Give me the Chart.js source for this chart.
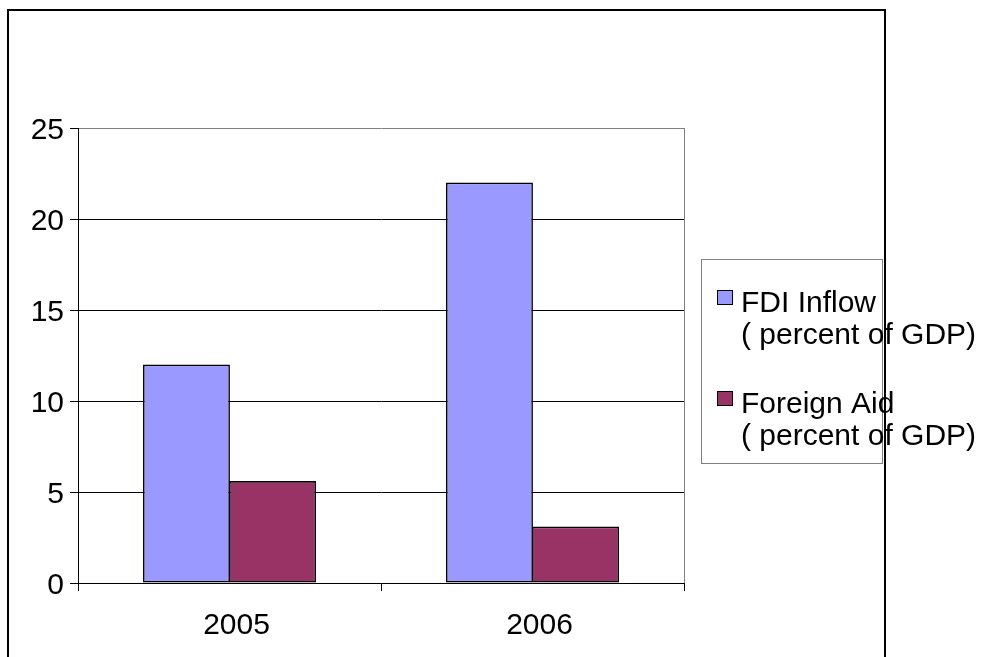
<!DOCTYPE html>
<html>
<head>
<meta charset="utf-8">
<script src="https://cdn.jsdelivr.net/npm/chart.js@4/dist/chart.umd.min.js"></script>
<style>
  html, body { margin: 0; padding: 0; background: #fff; }
  canvas { display: block; }
</style>
</head>
<body>
<canvas id="aidChart" width="987" height="657"></canvas>
<script>
const years = ['2005', '2006'];
const fdiInflow = [12, 22];
const foreignAid = [5.6, 3.1];
const yTicks = [0, 5, 10, 15, 20, 25];
const seriesNames = [
    ['FDI Inflow', '( percent of GDP)'],
    ['Foreign Aid', '( percent of GDP)']
];
const seriesColors = ['#9999FF', '#993366'];

const FONT = '"Liberation Sans", Arial, sans-serif';

// outer frame, plot edges and the boxed legend on the right
const framePlugin = {
    id: 'frame',
    afterDraw: (chart) => {
        const ctx = chart.ctx;
        const area = chart.chartArea;
        ctx.save();

        ctx.strokeStyle = '#808080';
        ctx.lineWidth = 1;
        ctx.beginPath();
        ctx.moveTo(Math.round(area.right) + 0.5, area.top);
        ctx.lineTo(Math.round(area.right) + 0.5, area.bottom);
        ctx.stroke();

        // legend box
        ctx.strokeRect(701.5, 259.5, 181, 204);
        ctx.font = '30px ' + FONT;
        ctx.textBaseline = 'alphabetic';
        ctx.textAlign = 'left';
        chart.data.datasets.forEach((ds, i) => {
            const base = 312 + i * 101;
            ctx.fillStyle = ds.backgroundColor;
            ctx.fillRect(717, base - 22, 16, 14);
            ctx.strokeStyle = '#000';
            ctx.lineWidth = 1;
            ctx.strokeRect(717.5, base - 21.5, 15, 14);
            ctx.fillStyle = '#000';
            seriesNames[i].forEach((line, j) => {
                ctx.fillText(line, 741, base + j * 32);
            });
        });

        ctx.strokeStyle = '#000';
        ctx.lineWidth = 2;
        ctx.strokeRect(8, 10, 877, 700);
        ctx.restore();
    }
};

new Chart(document.getElementById('aidChart'), {
    type: 'bar',
    data: {
        labels: years,
        datasets: [
            {
                label: seriesNames[0].join(' '),
                data: fdiInflow,
                backgroundColor: seriesColors[0],
                borderColor: '#000',
                borderWidth: 1.6,
                borderSkipped: false
            },
            {
                label: seriesNames[1].join(' '),
                data: foreignAid,
                backgroundColor: seriesColors[1],
                borderColor: '#000',
                borderWidth: 1.6,
                borderSkipped: false
            }
        ]
    },
    options: {
        responsive: false,
        animation: false,
        devicePixelRatio: 1,
        layout: {
            padding: { top: 128, right: 303, bottom: 0, left: 0 }
        },
        datasets: {
            bar: {
                categoryPercentage: 0.568,
                barPercentage: 1.01
            }
        },
        plugins: {
            legend: { display: false },
            tooltip: { enabled: false }
        },
        scales: {
            x: {
                offset: true,
                afterFit: (scale) => { scale.height = 74; },
                grid: {
                    offset: true,
                    drawOnChartArea: false,
                    drawTicks: true,
                    tickLength: 8,
                    color: '#000'
                },
                border: { color: '#000', width: 1 },
                ticks: {
                    color: '#000',
                    padding: 17,
                    labelOffset: 7,
                    font: { family: FONT, size: 30 }
                }
            },
            y: {
                min: 0,
                max: 25,
                afterFit: (scale) => { scale.width = 78; },
                afterBuildTicks: (scale) => {
                    scale.ticks = yTicks.map(v => ({ value: v }));
                },
                grid: {
                    color: (c) => c.tick && c.tick.value === 25 ? '#808080' : '#000',
                    tickColor: '#000',
                    tickLength: 8,
                    lineWidth: 1
                },
                border: { color: '#000', width: 1 },
                ticks: {
                    color: '#000',
                    padding: 6,
                    labelOffset: 3,
                    font: { family: FONT, size: 30 }
                }
            }
        }
    },
    plugins: [framePlugin]
});
</script>
</body>
</html>
